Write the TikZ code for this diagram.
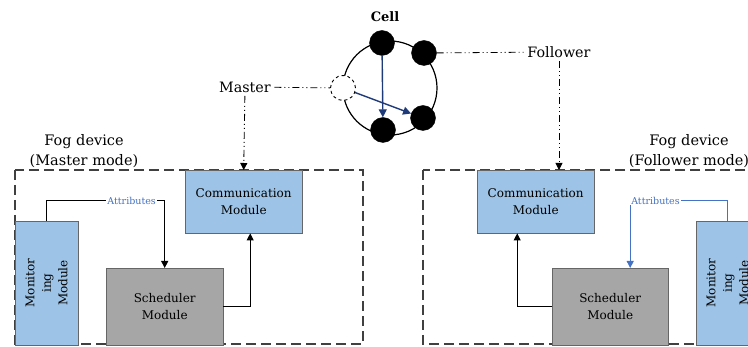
\documentclass[tikz,border=0pt]{standalone}
\usepackage{fontspec}
\setmainfont{DejaVu Serif}
\usetikzlibrary{arrows.meta, positioning}
\definecolor{modblue}{HTML}{9DC3E6}
\definecolor{modgray}{HTML}{A6A6A6}
\definecolor{attrblue}{HTML}{4472C4}
\definecolor{cellblue}{HTML}{1F3A78}

\begin{document}
\begin{tikzpicture}[
    x=1pt, y=-1pt,
    module/.style={rectangle, draw=black!60, fill=modblue, minimum width=117pt, minimum height=63pt, align=center, inner sep=0pt, anchor=north west, font=\fontsize{12}{16.5}\selectfont},
    sched/.style={module, fill=modgray, minimum height=77pt},
    monitor/.style={rectangle, draw=black!60, fill=modblue, rotate=90, minimum width=124pt, minimum height=63pt, align=center, inner sep=0pt, font=\fontsize{12}{16.5}\selectfont},
    member/.style={circle, fill=black, draw=black, minimum size=25pt, inner sep=0pt},
    fogframe/.style={draw=black!75, line width=1.3pt, dash pattern=on 10pt off 5pt},
    link/.style={draw=black, line width=0.8pt, dash pattern=on 7pt off 3pt on 1pt off 3pt on 1pt off 3pt},
    arrow/.style={-{Triangle[length=7pt, width=7pt]}, line width=0.9pt},
    label/.style={font=\fontsize{14.3}{17}\selectfont, align=center},
    attr/.style={fill=white, inner sep=1pt, font=\fontsize{9.5}{10}\selectfont},
]
    \clip (0,0) rectangle (748,347);

    % Cell
    \node[font=\bfseries\fontsize{13}{15}\selectfont] (celltitle) at (385,17) {Cell};
    \node[circle, draw, line width=1.2pt, minimum size=94pt] (cell) at (390,88) {};
    \node[member] (ntop) at (382,43) {};
    \node[member] (ntopr) at (424,53) {};
    \node[member] (nbot) at (383,130) {};
    \node[member] (nbotr) at (423,118) {};
    \node[circle, draw, dashed, fill=white, line width=0.9pt, minimum size=25pt, inner sep=0pt] (nmaster) at (343,88) {};
    \draw[arrow, cellblue, line width=1.4pt, -{Triangle[length=8pt, width=8pt]}] (ntop) -- (nbot);
    \draw[arrow, cellblue, line width=1.4pt, -{Triangle[length=8pt, width=8pt]}] (nmaster) -- (nbotr);

    % Roles
    \node[label] (master) at (245,87) {Master};
    \node[label] (follower) at (559,52) {Follower};

    % Fog devices
    \draw[fogframe] (15,170) rectangle (363,344);
    \draw[fogframe] (423,170) rectangle (770,344);
    \node[label, font=\fontsize{14.5}{20}\selectfont] (foglabelL) at (84,151) {Fog device\\(Master mode)};
    \node[label, font=\fontsize{14.5}{20}\selectfont] (foglabelR) at (689,151) {Fog device\\(Follower mode)};

    % Master mode modules
    \node[module] (commL) at (185,170) {Communication\\Module};
    \node[sched] (schedL) at (106,268) {Scheduler\\Module};
    \node[monitor] (monL) at (46.5,283) {Monitor\\ing\\Module};

    % Follower mode modules
    \node[module] (commR) at (477,170) {Communication\\Module};
    \node[sched, minimum width=116pt] (schedR) at (552,268) {Scheduler\\Module};
    \node[monitor] (monR) at (727.5,283) {Monitor\\ing\\Module};

    % Links
    \draw[link] (master) -- (nmaster);
    \draw[link] (ntopr) -- (follower);
    \draw[link, arrow] (master) -- (commL.north);
    \draw[link, arrow] (follower) -- (follower |- commR.north);

    % Arrows
    \draw[arrow] (monL.east) -- ++(0,-20) -| (schedL.north)
        node[attr, pos=0.36, text=attrblue] (attrL) {Attributes};
    \draw[arrow] (schedL.east) -| ([xshift=6.5pt]commL.south);
    \draw[arrow, attrblue] (monR.east) -- ++(0,-20) -| ([xshift=20pt]schedR.north)
        node[attr, pos=0.37] (attrR) {Attributes};
    \draw[arrow] (schedR.west) -| ([xshift=-18.5pt]commR.south);
\end{tikzpicture}
\end{document}
